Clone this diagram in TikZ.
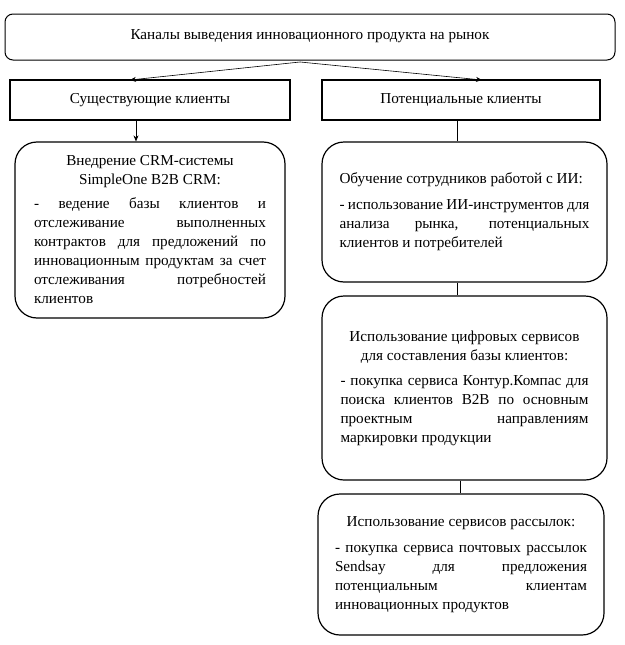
\documentclass[tikz,border=0pt]{standalone}
\usepackage{fontspec}
\setmainfont{Liberation Serif}
\usetikzlibrary{arrows.meta}
\tikzset{
  rbox/.style={draw, line width=1.2pt, rounded corners=22pt, inner sep=0pt, align=center},
  topbox/.style={draw, line width=1pt, rounded corners=8pt, inner sep=0pt},
  sbox/.style={draw, line width=1.1pt, inner sep=0pt},
  conn/.style={line width=0.6pt},
  arr/.style={conn, -{Stealth[length=6pt,width=5pt]}}
}
\newcommand{\jl}[1]{\makebox[\linewidth][s]{#1}\par}
\newcommand{\fs}{\fontsize{15.2}{19}\selectfont}
\begin{document}
\begin{tikzpicture}[x=1pt,y=-1pt]
\useasboundingbox (0,0) rectangle (624,645);

\node[topbox, minimum width=610pt, minimum height=46pt] (top) at (310,37)
  {\fs\raisebox{5pt}{Каналы выведения инновационного продукта на рынок}};

\node[sbox, minimum width=280pt, minimum height=40pt] (exist) at (150,100)
  {\fs Существующие клиенты};
\node[sbox, minimum width=278pt, minimum height=40pt] (pot) at (461,100)
  {\fs Потенциальные клиенты};

\node[rbox, minimum width=270pt, minimum height=176pt] (crm) at (150,230)
  {\begin{minipage}{232pt}\fs\parindent=0pt
   \centering Внедрение CRM-системы\\SimpleOne B2B CRM:\par\vspace{5pt}
   \raggedright
   \jl{- ведение базы клиентов и}
   \jl{отслеживание выполненных}
   \jl{контрактов для предложений по}
   \jl{инновационным продуктам за счет}
   \jl{отслеживания потребностей}
   клиентов\par
   \end{minipage}};

\node[rbox, minimum width=285pt, minimum height=140pt] (ai) at (464.5,212)
  {\begin{minipage}{250pt}\fs\parindent=0pt
   Обучение сотрудников работой с ИИ:\par\vspace{7pt}
   \jl{- использование ИИ-инструментов для}
   \jl{анализа рынка, потенциальных}
   клиентов и потребителей\par
   \end{minipage}};

\node[rbox, minimum width=285pt, minimum height=184pt] (dig) at (464.5,388)
  {\begin{minipage}{248pt}\fs\parindent=0pt
   \centering Использование цифровых сервисов\\для составления базы клиентов:\par\vspace{6pt}
   \raggedright
   \jl{- покупка сервиса Контур.Компас для}
   \jl{поиска клиентов B2B по основным}
   \jl{проектным направлениям}
   маркировки продукции\par
   \end{minipage}};

\node[rbox, minimum width=286pt, minimum height=141pt] (mail) at (461,564.5)
  {\begin{minipage}{252pt}\fs\parindent=0pt
   \centering Использование сервисов рассылок:\par\vspace{7pt}
   \raggedright
   \jl{- покупка сервиса почтовых рассылок}
   \jl{Sendsay для предложения}
   \jl{потенциальным клиентам}
   инновационных продуктов\par
   \end{minipage}};

\coordinate (apex) at (300,62);
\coordinate (el) at (130,80);
\coordinate (er) at (482,80);
\draw[arr] (apex) -- (el);
\draw[arr] (apex) -- (er);
\draw[arr] (exist.south -| 136,0) -- (crm.north -| 136,0);
\draw[conn] (pot.south -| 457,0) -- (ai.north -| 457,0);
\draw[conn] (ai.south -| 457,0) -- (dig.north -| 457,0);
\draw[conn] (dig.south -| 460,0) -- (mail.north -| 460,0);
\end{tikzpicture}
\end{document}
